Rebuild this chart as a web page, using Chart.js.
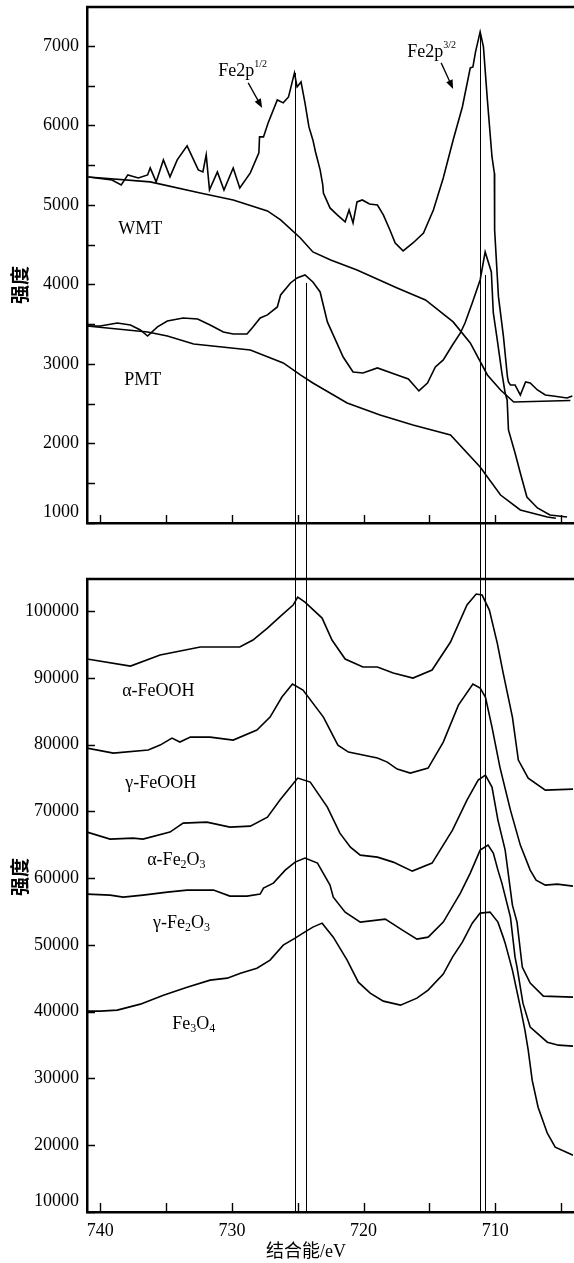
<!DOCTYPE html>
<html>
<head>
<meta charset="utf-8">
<script src="https://cdn.jsdelivr.net/npm/chart.js@4.4.1/dist/chart.umd.min.js"></script>
<style>
  html, body { margin: 0; padding: 0; background: #fff; }
  #wrap { position: relative; width: 574px; height: 1263px; }
  #topChart { position: absolute; left: 0; top: 0; }
  #botChart { position: absolute; left: 0; top: 560px; }
</style>
</head>
<body>
<div id="wrap">
  <canvas id="topChart" width="574" height="560" style="width:574px;height:560px"></canvas>
  <canvas id="botChart" width="574" height="703" style="width:574px;height:703px"></canvas>
</div>
<script>
// binding energy (eV) / intensity pairs
const wmt = [[740.9,5352],[739.1,5315],[738.4,5252],[737.9,5378],[737.1,5340],[736.4,5378],[736.2,5466],[735.75,5290],[735.2,5567],[734.7,5353],[734.15,5567],[733.4,5743],[732.55,5441],[732.2,5416],[731.95,5629],[731.7,5189],[731.1,5416],[730.6,5189],[729.9,5466],[729.4,5214],[728.6,5403],[727.95,5655],[727.9,5856],[727.6,5856],[727.25,6032],[726.55,6321],[726.1,6284],[725.7,6359],[725.25,6661],[725.05,6485],[724.75,6548],[724.45,6284],[724.15,5982],[723.85,5818],[723.65,5667],[723.3,5441],[723.1,5252],[723.05,5151],[722.55,4963],[722.0,4875],[721.4,4787],[721.1,4938],[720.8,4774],[720.5,5038],[720.1,5063],[719.55,5013],[718.95,5000],[718.5,4875],[718.0,4686],[717.6,4522],[717.0,4422],[716.25,4522],[715.45,4648],[714.7,4937],[713.95,5340],[713.2,5818],[712.5,6233],[711.9,6724],[711.7,6736],[711.5,6925],[711.15,7177],[710.9,6988],[710.6,6321],[710.25,5604],[710.07,5400],[710.05,4686],[709.76,3847],[709.38,3344],[709.08,2840],[709.0,2774],[708.85,2736],[708.5,2736],[708.1,2610],[707.7,2774],[707.35,2761],[706.8,2673],[706.2,2610],[705.6,2598],[704.55,2573],[704.15,2598]];
const wmtBase = [[740.9,5352],[736.2,5290],[732.4,5151],[729.9,5063],[727.3,4925],[726.3,4812],[724.8,4585],[723.85,4409],[722.5,4309],[720.5,4183],[717.45,3956],[715.3,3805],[713.2,3529],[711.9,3264],[710.6,2862],[709.6,2673],[708.6,2522],[704.3,2540]];
const pmt = [[741,3478],[740,3478],[738.7,3516],[737.7,3491],[736.95,3428],[736.4,3352],[735.65,3466],[734.9,3541],[733.7,3579],[732.6,3566],[731.65,3491],[730.65,3403],[729.9,3378],[728.85,3378],[728.4,3466],[727.85,3579],[727.3,3617],[726.55,3717],[726.3,3868],[725.55,4019],[725.05,4082],[724.45,4120],[723.85,4032],[723.3,3906],[722.75,3529],[721.55,3088],[720.8,2900],[720.05,2887],[718.95,2950],[717.45,2862],[716.6,2812],[715.8,2661],[715.15,2761],[714.55,2962],[713.95,3051],[713.25,3239],[712.65,3390],[712.3,3516],[711.75,3768],[711.15,4057],[710.77,4409],[710.3,4158],[710.15,3642],[709.85,3302],[709.5,2887],[709.25,2635],[709.1,2547],[709.0,2170],[708.5,1881],[708.1,1629],[707.6,1327],[706.8,1189],[705.85,1101],[704.55,1075]];
const pmtBase = [[741,3478],[736.4,3403],[734.9,3352],[732.9,3252],[728.6,3176],[726.1,3013],[724.8,2862],[723.85,2761],[721.25,2510],[718.75,2359],[716.25,2233],[713.4,2107],[711.15,1705],[709.6,1352],[708.1,1164],[706.05,1075],[705.4,1060]];

const aFeOOH = [[741,92810],[737.7,91761],[735.45,93409],[732.4,94607],[729.4,94607],[728.4,95656],[727.3,97453],[726.3,99251],[725.35,100899],[725.0,102097],[724.45,101348],[723.15,98951],[722.4,95656],[721.4,92810],[720.05,91611],[718.95,91611],[717.75,90712],[716.25,89963],[714.8,91162],[713.4,95356],[712.15,100899],[711.45,102547],[711.0,102397],[710.45,100150],[709.85,95206],[709.4,90712],[708.7,84121],[708.25,77680],[707.5,74983],[706.2,73186],[704.1,73336]];
const gFeOOH = [[741,79477],[739,78728],[736.35,79178],[735.45,79927],[734.55,80975],[733.95,80376],[733.15,81125],[731.65,81125],[729.9,80676],[728.1,82174],[727.1,84121],[726.2,87117],[725.4,89065],[724.6,88166],[723.05,84121],[721.95,79927],[721.15,78878],[718.95,77979],[718.2,77380],[717.45,76332],[716.45,75732],[715.1,76481],[713.95,80376],[712.8,85919],[711.7,89065],[711.15,88465],[710.75,87117],[710.25,82623],[709.65,76631],[708.85,70190],[708.1,64947],[707.35,61202],[706.9,59704],[706.2,58955],[705.3,59105],[704.1,58805]];
const aFe2O3 = [[741,66894],[739.25,65846],[737.5,65995],[736.75,65846],[734.7,66894],[733.7,68242],[731.9,68392],[730.15,67643],[728.6,67793],[727.3,69141],[726.35,71688],[725.55,73635],[725.0,74983],[724.05,74384],[722.75,70639],[721.8,66744],[721.0,64647],[720.25,63449],[718.95,63149],[717.75,62400],[716.3,61052],[714.8,62250],[713.25,67194],[712.15,71688],[711.3,74684],[710.75,75433],[710.25,73635],[709.8,68692],[709.25,64198],[708.95,59704],[708.7,55958],[708.35,53412],[707.95,46671],[707.35,44274],[706.35,42327],[704.1,42177]];
const gFe2O3 = [[741,57607],[739.25,57457],[738.25,57157],[736.75,57457],[734.9,57906],[733.4,58206],[731.4,58206],[730.15,57307],[728.85,57307],[727.85,57607],[727.6,58505],[726.85,59254],[725.95,61202],[725.2,62400],[724.45,62999],[723.5,62250],[722.55,58955],[722.3,57157],[721.4,54910],[720.25,53412],[718.35,53862],[717.05,52214],[715.95,50866],[715.1,51165],[713.95,53412],[712.65,57756],[711.9,60752],[711.15,64198],[710.55,64947],[710.15,63748],[709.8,61202],[709.5,59254],[708.85,54161],[708.5,48169],[708.35,46671],[707.9,41278],[707.35,37683],[706.05,35436],[705.2,34987],[704.1,34837]];
const fe3O4 = [[741,40080],[740,40080],[738.7,40230],[736.95,41129],[735.2,42477],[733.4,43675],[731.65,44724],[730.35,45024],[729.35,45772],[728.1,46521],[727.1,47720],[726.1,49967],[725.2,51015],[724.6,51764],[723.85,52663],[723.15,53262],[722.3,51165],[721.25,47720],[720.4,44424],[719.5,42776],[718.5,41578],[717.2,40979],[715.95,42027],[715.1,43226],[713.95,45623],[713.25,48169],[712.5,50416],[711.75,53262],[711.15,54760],[710.4,54910],[709.8,53412],[709.4,51165],[709.25,50266],[708.7,46222],[708.1,40679],[707.75,37234],[707.5,34238],[707.2,29744],[706.75,25699],[706.05,21804],[705.45,19707],[704.1,18509]];

// peak marker lines: position (eV) and where they start in the upper panel
const markerEv = [725.22, 724.39, 711.15, 710.77];
const markerTop = [6661, 4020, 7177, 4120];

// in-plot labels ('^' = superscript rest, '_' = subscript next char)
const topLabels = ['WMT', 'PMT', 'Fe2p^1/2', 'Fe2p^3/2'];
const topLabelEv = [738.63, 738.18, 731.04, 716.69];
const topLabelVal = [4698, 2799, 6686, 6925];
const topArrows = [[728.76, 6535, 727.70, 6221], [714.11, 6787, 713.20, 6460]];

const botLabels = ['α-FeOOH', 'γ-FeOOH', 'α-Fe_2O_3', 'γ-Fe_2O_3', 'Fe_3O_4'];
const botLabelEv = [738.33, 738.10, 736.43, 735.98, 734.53];
const botLabelVal = [88016, 74234, 62700, 53262, 38133];

// axes
const evRange = [704.1, 741];
const topRange = [1000, 7490];
const botRange = [10000, 104800];
const evTicks = [705, 710, 715, 720, 725, 730, 735, 740];
const topTicks = [1000, 1500, 2000, 2500, 3000, 3500, 4000, 4500, 5000, 5500, 6000, 6500, 7000];
const botTicks = [10000, 20000, 30000, 40000, 50000, 60000, 70000, 80000, 90000, 100000];

const SERIF = '"Liberation Serif", "Times New Roman", serif';
const CJK = '"Liberation Serif", "Noto Sans CJK SC", sans-serif';

function toXY(arr) { return arr.map(p => ({ x: p[0], y: p[1] })); }
function series(arr) {
  return { data: toXY(arr), showLine: true, borderColor: '#000', borderWidth: 1.6,
           pointRadius: 0, fill: false, tension: 0 };
}

function drawRich(ctx, text, x, y, size) {
  let cx = x;
  let i = 0;
  while (i < text.length) {
    let t, mode = 0;
    if (text[i] === '^') { t = text.slice(i + 1); mode = 1; i = text.length; }
    else if (text[i] === '_') { t = text[i + 1]; mode = 2; i += 2; }
    else {
      let j = i;
      while (j < text.length && text[j] !== '^' && text[j] !== '_') j++;
      t = text.slice(i, j); i = j;
    }
    const s = mode === 1 ? 10 : mode === 2 ? 12 : size;
    const dy = mode === 1 ? -7 : mode === 2 ? 5 : 0;
    ctx.font = s + 'px ' + SERIF;
    ctx.fillText(t, cx, y + dy);
    cx += ctx.measureText(t).width;
  }
}

function framePlugin(yTickLen, xTickLen) {
  return {
    id: 'frame',
    afterDraw(chart) {
      const { ctx, chartArea: a, scales: { x, y } } = chart;
      ctx.save();
      ctx.strokeStyle = '#000';
      ctx.lineWidth = 1.4;
      ctx.beginPath();
      x.ticks.forEach(t => {
        const px = Math.round(x.getPixelForValue(t.value)) + 0.5;
        ctx.moveTo(px, a.bottom); ctx.lineTo(px, a.bottom - xTickLen);
      });
      y.ticks.forEach(t => {
        const py = Math.round(y.getPixelForValue(t.value)) + 0.5;
        ctx.moveTo(a.left, py); ctx.lineTo(a.left + yTickLen, py);
      });
      ctx.stroke();
      ctx.lineWidth = 2.5;
      ctx.beginPath();
      ctx.moveTo(a.left - 1, a.top); ctx.lineTo(a.right + 1, a.top);
      ctx.stroke();
      ctx.restore();
    }
  };
}

function markerPlugin(isTop) {
  return {
    id: 'markers',
    afterDatasetsDraw(chart) {
      const { ctx, chartArea: a, scales: { x, y } } = chart;
      ctx.save();
      ctx.strokeStyle = '#000';
      ctx.lineWidth = 1;
      ctx.beginPath();
      markerEv.forEach((ev, i) => {
        const px = Math.round(x.getPixelForValue(ev)) + 0.5;
        const y0 = isTop ? y.getPixelForValue(markerTop[i]) : 0;
        const y1 = isTop ? chart.height : a.bottom;
        ctx.moveTo(px, y0); ctx.lineTo(px, y1);
      });
      ctx.stroke();
      ctx.restore();
    }
  };
}

function notesPlugin(texts, evs, vals, arrows, titleY, xTitle) {
  return {
    id: 'notes',
    afterDraw(chart) {
      const { ctx, scales: { x, y } } = chart;
      ctx.save();
      ctx.fillStyle = '#000';
      ctx.strokeStyle = '#000';
      ctx.textAlign = 'left';
      ctx.textBaseline = 'middle';
      texts.forEach((t, i) => drawRich(ctx, t, x.getPixelForValue(evs[i]), y.getPixelForValue(vals[i]), 18));
      arrows.forEach(ar => {
        const x0 = x.getPixelForValue(ar[0]), y0 = y.getPixelForValue(ar[1]);
        const x1 = x.getPixelForValue(ar[2]), y1 = y.getPixelForValue(ar[3]);
        const ang = Math.atan2(y1 - y0, x1 - x0);
        ctx.lineWidth = 1.3;
        ctx.beginPath(); ctx.moveTo(x0, y0); ctx.lineTo(x1 - 6 * Math.cos(ang), y1 - 6 * Math.sin(ang)); ctx.stroke();
        ctx.beginPath();
        ctx.moveTo(x1, y1);
        ctx.lineTo(x1 - 9 * Math.cos(ang) + 3.5 * Math.sin(ang), y1 - 9 * Math.sin(ang) - 3.5 * Math.cos(ang));
        ctx.lineTo(x1 - 9 * Math.cos(ang) - 3.5 * Math.sin(ang), y1 - 9 * Math.sin(ang) + 3.5 * Math.cos(ang));
        ctx.closePath(); ctx.fill();
      });
      // y axis title
      ctx.save();
      ctx.translate(20, titleY);
      ctx.rotate(-Math.PI / 2);
      ctx.textAlign = 'center';
      ctx.font = 'bold 19px "Noto Sans CJK SC", sans-serif';
      ctx.fillText('强度', 0, 0);
      ctx.restore();
      if (xTitle) {
        ctx.textAlign = 'center';
        ctx.font = '18px ' + CJK;
        ctx.fillText(xTitle, 306, chart.height - 11);
      }
      ctx.restore();
    }
  };
}

function xAxis(showLabels, height) {
  return {
    type: 'linear', reverse: true, min: evRange[0], max: evRange[1],
    grid: { display: false, drawTicks: false },
    border: { display: true, color: '#000', width: 2.5 },
    afterBuildTicks: s => { s.ticks = evTicks.map(v => ({ value: v })); },
    ticks: {
      display: showLabels, autoSkip: false, maxRotation: 0,
      padding: 8, color: '#000', font: { family: SERIF, size: 18 },
      callback: v => (v % 10 === 0 ? String(v) : '')
    },
    afterFit: s => { s.height = height; s.paddingLeft = 0; s.paddingRight = 0; }
  };
}

function yAxis(range, tickVals, labelStep) {
  return {
    type: 'linear', min: range[0], max: range[1],
    grid: { display: false, drawTicks: false },
    border: { display: true, color: '#000', width: 2.5 },
    afterBuildTicks: s => { s.ticks = tickVals.map(v => ({ value: v })); },
    ticks: {
      autoSkip: false, padding: 8, color: '#000',
      font: { family: SERIF, size: 18 },
      // the lowest label sits a little above the axis, as in the original
      callback: (v, i) => (v % labelStep !== 0 ? '' : i === 0 ? [String(v), ''] : String(v))
    },
    afterFit: s => { s.width = 87; s.paddingTop = 0; s.paddingBottom = 0; }
  };
}

new Chart(document.getElementById('topChart'), {
  type: 'scatter',
  data: { datasets: [series(wmt), series(wmtBase), series(pmt), series(pmtBase)] },
  options: {
    responsive: false, animation: false, events: [],
    layout: { padding: { top: 7, right: 1, left: 0, bottom: 0 } },
    plugins: { legend: { display: false }, tooltip: { enabled: false } },
    scales: { x: xAxis(false, 37), y: yAxis(topRange, topTicks, 1000) }
  },
  plugins: [framePlugin(8, 8), markerPlugin(true), notesPlugin(topLabels, topLabelEv, topLabelVal, topArrows, 285, null)]
});

new Chart(document.getElementById('botChart'), {
  type: 'scatter',
  data: { datasets: [series(aFeOOH), series(gFeOOH), series(aFe2O3), series(gFe2O3), series(fe3O4)] },
  options: {
    responsive: false, animation: false, events: [],
    layout: { padding: { top: 19, right: 1, left: 0, bottom: 0 } },
    plugins: { legend: { display: false }, tooltip: { enabled: false } },
    scales: { x: xAxis(true, 51), y: yAxis(botRange, botTicks, 10000) }
  },
  plugins: [framePlugin(8, 9), markerPlugin(false), notesPlugin(botLabels, botLabelEv, botLabelVal, [], 317, '结合能/eV')]
});
</script>
</body>
</html>
